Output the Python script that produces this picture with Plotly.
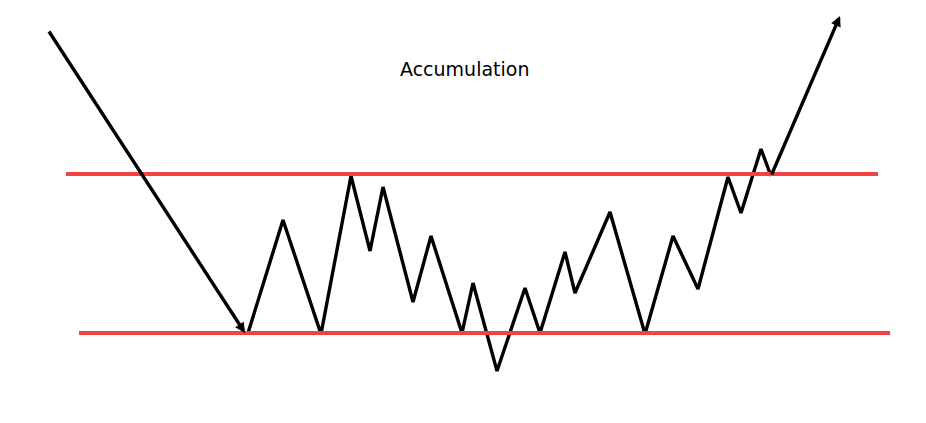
import plotly.graph_objects as go

W, H = 926, 423

# price path (x = time, y = price, pixel-ish units)
path_x = [248, 283, 321, 351, 370, 383, 413, 431, 462, 473, 497, 525, 540, 565, 575, 610, 645, 673, 698, 728, 741, 761, 771]
path_y = [91, 204, 90, 248, 173, 237, 122, 188, 91, 141, 53, 136, 91, 172, 131, 212, 90, 188, 135, 247, 211, 275, 248]

# incoming down-trend and outgoing breakout arrows
down_start = (48, 394)
down_end = (245, 91)
up_end = (840, 408)

# support / resistance
resist_level = 250
resist_x = [66, 878]
support_level = 91
support_x = [79, 890]

title_text = "Accumulation"

fig = go.Figure()

fig.add_trace(go.Scatter(x=path_x, y=path_y, mode="lines",
                         line=dict(color="black", width=3.4), hoverinfo="skip"))
fig.add_trace(go.Scatter(x=resist_x, y=[resist_level, resist_level], mode="lines",
                         line=dict(color="#f44141", width=4), hoverinfo="skip"))
fig.add_trace(go.Scatter(x=support_x, y=[support_level, support_level], mode="lines",
                         line=dict(color="#f44141", width=4), hoverinfo="skip"))

arrow = dict(xref="x", yref="y", axref="x", ayref="y", text="", showarrow=True,
             arrowhead=2, arrowsize=0.6, arrowwidth=3.4, arrowcolor="black")
fig.add_annotation(x=down_end[0], y=down_end[1], ax=down_start[0], ay=down_start[1], **arrow)
fig.add_annotation(x=up_end[0], y=up_end[1], ax=path_x[-1], ay=path_y[-1], **arrow)

fig.add_annotation(x=464, y=355, xref="x", yref="y", text=title_text, showarrow=False,
                   font=dict(family="DejaVu Sans", size=19, color="black"))

# the page puts the figure 8px in from the top-left corner, so shift the ranges
fig.update_layout(
    width=W, height=H,
    margin=dict(l=0, r=0, t=0, b=0),
    paper_bgcolor="white", plot_bgcolor="white",
    showlegend=False,
    xaxis=dict(range=[8, W + 8], visible=False, fixedrange=True),
    yaxis=dict(range=[-7, H - 7], visible=False, fixedrange=True),
)

fig.write_html("out.html", config={"displayModeBar": False})
